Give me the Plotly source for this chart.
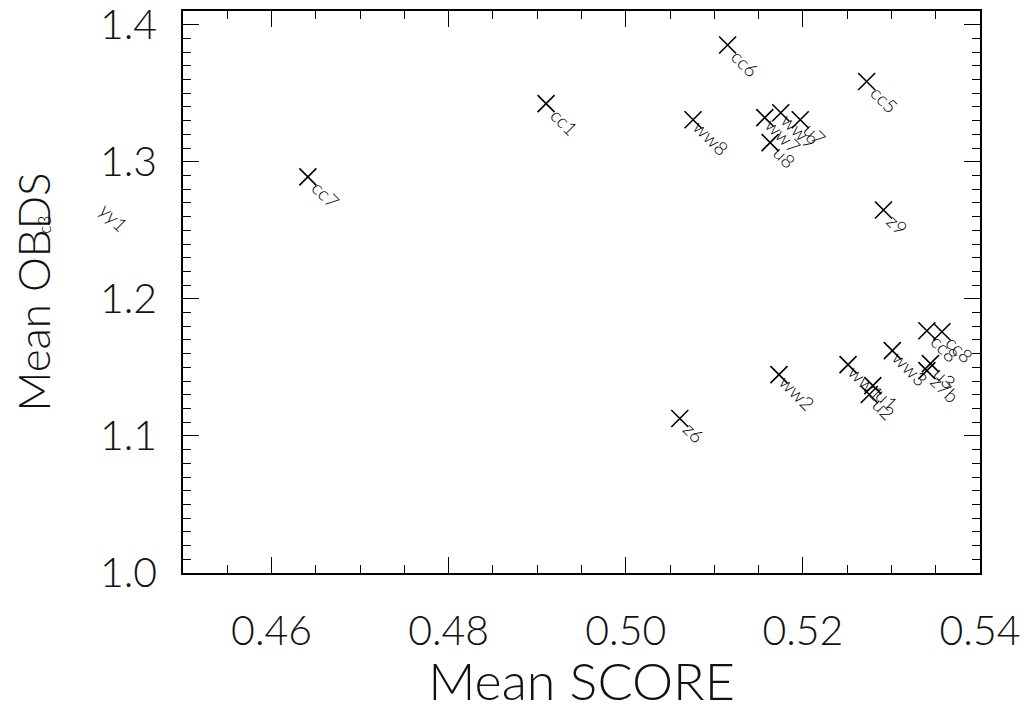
import math
import plotly.graph_objects as go

# ---- data ----
labels = ["cc7", "cc1", "cc6", "cc5", "ww8", "ww7", "ww9", "u7", "u8", "z9",
          "z6", "ww2", "ww1", "u1", "u2", "ww3", "cc8", "cc8", "u3", "z7b", "yy1"]
mean_score = [0.4641, 0.4910, 0.5115, 0.5272, 0.5076, 0.5157, 0.5175, 0.5197, 0.5163, 0.5291,
              0.5061, 0.5173, 0.5251, 0.5279, 0.5275, 0.5301, 0.5340, 0.5357, 0.5344, 0.5340, 0.4402]
mean_obds = [1.289, 1.3424, 1.3852, 1.3586, 1.3307, 1.3322, 1.3358, 1.3307, 1.3140, 1.2648,
             1.1127, 1.1447, 1.1520, 1.1367, 1.1302, 1.1622, 1.1767, 1.1760, 1.1527, 1.1476, 1.2726]

x_range = [0.45, 0.54]
y_range = [1.0, 1.41]
x_ticks = [0.46, 0.48, 0.50, 0.52, 0.54]
x_ticktext = ["0.46", "0.48", "0.50", "0.52", "0.54"]
y_ticks = [1.0, 1.1, 1.2, 1.3, 1.4]
y_ticktext = ["1.0", "1.1", "1.2", "1.3", "1.4"]

FONT = "Lato"
fig = go.Figure()
fig.add_trace(go.Scatter(
    x=mean_score, y=mean_obds, mode="markers",
    marker=dict(symbol="x-thin", size=17, line=dict(width=1.6, color="black"), color="black"),
    cliponaxis=True, showlegend=False, hoverinfo="skip"))

char_w = 11
gap = 9
c = math.cos(math.radians(45))
for lab, xv, yv in zip(labels, mean_score, mean_obds):
    L = len(lab) * char_w
    d = gap + L / 2
    # place in paper coordinates so labels of off-range points still show
    px = (xv - x_range[0]) / (x_range[1] - x_range[0])
    py = (yv - y_range[0]) / (y_range[1] - y_range[0])
    fig.add_annotation(xref="paper", yref="paper", x=px, y=py, text=lab, showarrow=False,
                       textangle=45, xanchor="center", yanchor="middle",
                       xshift=d * c, yshift=-d * c,
                       font=dict(family=FONT, size=19, color="black", weight=300))

# stray overlapped label on the y title
fig.add_annotation(xref="paper", yref="paper", x=-0.19, y=0.62, text="c3", showarrow=False,
                   textangle=-90, font=dict(family=FONT, size=17, color="black", weight=300))

axis_common = dict(showgrid=False, zeroline=False, showline=True, linecolor="black", linewidth=1.5,
                   mirror="ticks", ticks="inside", tickcolor="black", tickwidth=1.2, ticklen=16,
                   ticklabeloverflow="allow",
                   tickfont=dict(family=FONT, size=41, color="#111", weight=300))
fig.update_xaxes(range=x_range, tickvals=x_ticks, ticktext=x_ticktext,
                 minor=dict(dtick=0.005, tick0=0.45, ticks="inside", ticklen=8, tickcolor="black", tickwidth=1.2),
                 ticklabelstandoff=21,
                 title=dict(text="Mean SCORE", font=dict(family=FONT, size=52, color="#111", weight=300), standoff=54),
                 **axis_common)
fig.update_yaxes(range=y_range, tickvals=y_ticks, ticktext=y_ticktext,
                 minor=dict(dtick=0.01, tick0=1.0, ticks="inside", ticklen=8, tickcolor="black", tickwidth=1.2),
                 ticklabelstandoff=16,
                 title=dict(text="Mean OBDS", font=dict(family=FONT, size=44, color="#111", weight=300), standoff=36),
                 **axis_common)

fig.update_layout(width=1031, height=711, margin=dict(l=183, r=51, t=11, b=138, autoexpand=False),
                  paper_bgcolor="white", plot_bgcolor="white")
fig.write_html("out.html")
